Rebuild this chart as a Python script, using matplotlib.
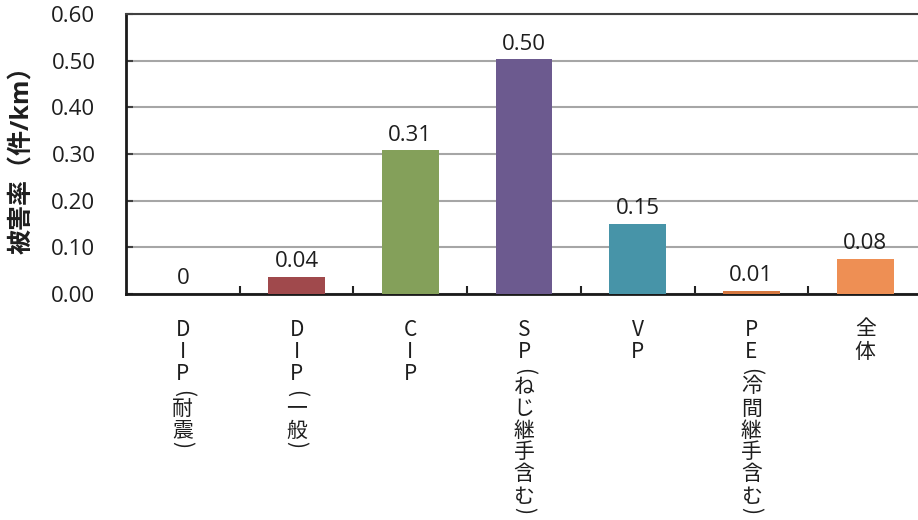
import matplotlib
matplotlib.use('Agg')
import matplotlib.pyplot as plt

plt.rcParams['font.family'] = ['Open Sans', 'Noto Sans CJK JP', 'DejaVu Sans']

# data
categories = ['DIP(耐震)', 'DIP(一般)', 'CIP', 'SP(ねじ継手含む)', 'VP', 'PE(冷間継手含む)', '全体']
values = [0.0, 0.037, 0.308, 0.503, 0.150, 0.007, 0.075]
value_labels = ['0', '0.04', '0.31', '0.50', '0.15', '0.01', '0.08']
colors = ['#4F81BD', '#A0494C', '#84A05A', '#6C5A8F', '#4794A8', '#D5773F', '#EE8F54']
yticks = [0.0, 0.1, 0.2, 0.3, 0.4, 0.5, 0.6]

fig = plt.figure(figsize=(9.18, 5.2), dpi=100)
ax = fig.add_axes([126/918, 1 - 294/520, (922 - 126)/918, 280/520])

x = list(range(len(categories)))
ax.bar(x, values, width=0.5, color=colors, zorder=3)

for i in range(len(values)):
    ax.annotate(value_labels[i], xy=(x[i], values[i]), xytext=(0, 7),
                textcoords='offset points', ha='center', va='baseline',
                fontsize=16, color='#1e1e1e', zorder=4)

ax.set_xlim(-0.5, 6.5)
ax.set_ylim(0, 0.6)
ax.set_yticks(yticks)
ax.set_yticklabels(['%.2f' % v for v in yticks], fontsize=16, color='#1e1e1e')
ax.yaxis.grid(True, color='#A6A6A6', lw=1.5, zorder=0)
ax.set_axisbelow(True)
ax.tick_params(axis='y', direction='in', length=5, width=1.5, color='#404040', pad=22)

# category labels written top-to-bottom, one character per cell (vertical text)
ax.set_xticks(x)
ax.set_xticklabels([])
ax.tick_params(axis='x', which='major', length=0)
ax.set_xticks([i + 0.5 for i in range(6)], minor=True)
ax.tick_params(axis='x', which='minor', direction='in', length=6, width=1.5, color='#222222')

px = 0.72  # points per pixel at 100 dpi
cell = 22.0
for i, name in enumerate(categories):
    cur = 24.5
    for ch in name:
        rot = 0
        if ch == '(':
            yc = cur + 9
            rot = -90
            cur += 13
        elif ch == ')':
            yc = cur + 3
            rot = -90
            cur += 13
        else:
            yc = cur + cell / 2
            cur += cell
        ax.annotate(ch, xy=(x[i], 0), xycoords=('data', 'axes fraction'),
                    xytext=(0, -yc * px), textcoords='offset points',
                    ha='center', va='center', rotation=rot, fontsize=15,
                    color='#1e1e1e', family=['Noto Sans CJK JP', 'DejaVu Sans'],
                    annotation_clip=False)

for s in ['left', 'bottom']:
    ax.spines[s].set_linewidth(2)
    ax.spines[s].set_color('#1a1a1a')
ax.spines['top'].set_color('#404040')
ax.spines['top'].set_linewidth(1.5)
ax.spines['right'].set_visible(False)

ax.set_ylabel('被害率（件/km）', fontsize=18, fontweight='bold', color='#1e1e1e')
ax.yaxis.set_label_coords((35 - 126)/796, 0.5)

plt.savefig('out.png', dpi=100)
